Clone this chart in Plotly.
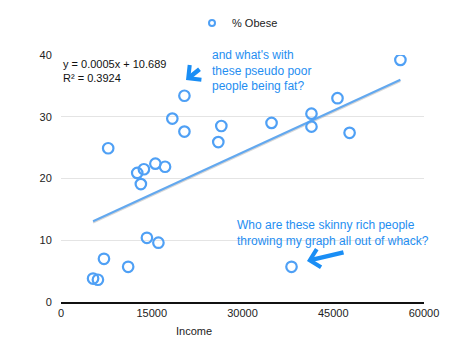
import plotly.graph_objects as go

income = [5300, 6100, 7100, 7800, 11100, 12600, 13200, 13700, 14200, 15600, 16100, 17200,
          18400, 20400, 20400, 26000, 26500, 34800, 38100, 41400, 41400, 45700, 47700, 56100]
obese = [3.8, 3.6, 7.0, 24.9, 5.7, 20.9, 19.1, 21.5, 10.4, 22.4, 9.6, 21.9,
         29.7, 33.4, 27.6, 25.9, 28.5, 29.0, 5.7, 30.5, 28.4, 33.0, 27.4, 39.2]
slope = 0.000451
intercept = 10.689
x_ticks = [0, 15000, 30000, 45000, 60000]
y_ticks = [0, 10, 20, 30, 40]

fx = [min(income), max(income)]
fy = [slope * v + intercept for v in fx]

BLUE = "#4fa0f5"
TXT_BLUE = "#1f8ef1"
FONT = "Liberation Sans, Arial, sans-serif"

W, H = 471, 351
L, R, T, B = 61, 47, 55, 49
pw, ph = W - L - R, H - T - B

fig = go.Figure()
# trend line shadow
fig.add_trace(go.Scatter(x=fx, y=[v - 0.22 for v in fy], mode="lines",
                         line=dict(color="rgba(140,140,140,0.35)", width=2),
                         showlegend=False, hoverinfo="skip"))
fig.add_trace(go.Scatter(x=fx, y=fy, mode="lines",
                         line=dict(color="#62a8ef", width=2),
                         showlegend=False, hoverinfo="skip"))
fig.add_trace(go.Scatter(x=income, y=obese, mode="markers", name="% Obese",
                         marker=dict(symbol="circle-open", size=10.5, color=BLUE,
                                     line=dict(width=2.2, color=BLUE)),
                         showlegend=False))
fig.add_trace(go.Scatter(x=[None], y=[None], mode="markers", name="% Obese",
                         marker=dict(symbol="circle-open", size=6, color=BLUE,
                                     line=dict(width=2, color=BLUE))))

fig.update_layout(
    width=W, height=H,
    margin=dict(l=L, r=R, t=T, b=B, autoexpand=False),
    paper_bgcolor="white", plot_bgcolor="white",
    font=dict(family=FONT, size=11, color="#222"),
    legend=dict(orientation="h", x=0.5 - 5 / pw, xanchor="center", y=1 - 23 / H, yanchor="middle",
                yref="container", font=dict(size=11, color="#222")),
    xaxis=dict(range=[0, 60000], tickvals=x_ticks, ticktext=[str(v) for v in x_ticks],
               showgrid=False, zeroline=False, showline=True, linecolor="#111", linewidth=2,
               ticks="", tickfont=dict(size=11, color="#222")),
    yaxis=dict(range=[0, 40], tickvals=y_ticks, showgrid=True, gridcolor="#e4e4e4", gridwidth=1,
               zeroline=False, showline=False, ticks="outside", ticklen=6, tickcolor="white",
               tickfont=dict(size=11, color="#222")),
    showlegend=True,
)


def px2paper(x, y):
    return (x - L) / pw, 1 - (y - T) / ph


ann = [
    dict(text="y = 0.0005x + 10.689<br>R² = 0.3924", x=0, y=1.0, xref="paper", yref="paper",
         xanchor="left", yanchor="top", align="left", showarrow=False,
         font=dict(size=11, color="#111"), yshift=-1),
]

for text, (x, y) in [("and what's with<br>these pseudo poor<br>people being fat?", (210, 46)),
                     ("Who are these skinny rich people<br>throwing my graph all out of whack?", (235, 216))]:
    xx, yy = px2paper(x, y)
    ann.append(dict(text=text, x=xx, y=yy, xref="paper", yref="paper", showarrow=False,
                    align="left", xanchor="left", yanchor="top",
                    font=dict(size=12, color=TXT_BLUE)))

xx, yy = px2paper(194, 331)
ann.append(dict(text="Income", x=xx, y=yy, xref="paper", yref="paper", showarrow=False,
                xanchor="center", yanchor="middle", font=dict(size=11, color="#222")))

# arrows (head position, tail position in pixels)
for hx, hy, tx, ty in [(186, 80, 201, 68), (307, 261, 345, 252)]:
    xx, yy = px2paper(hx, hy)
    ann.append(dict(x=xx, y=yy, xref="paper", yref="paper", ax=tx - hx, ay=ty - hy,
                    showarrow=True, arrowhead=4, arrowsize=0.8, arrowwidth=4.5,
                    arrowcolor="#1a8ef5", text=""))

fig.update_layout(annotations=ann)
fig.write_html("out.html")
